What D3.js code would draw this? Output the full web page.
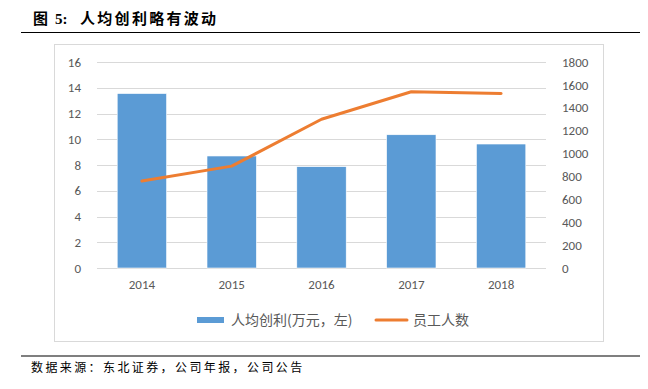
<!DOCTYPE html>
<html>
<head>
<meta charset="utf-8">
<script src="https://cdn.jsdelivr.net/npm/d3@7"></script>
<style>
  body { margin: 0; background: #fff; }
  text { font-family: "Noto Sans CJK SC", "Noto Sans", sans-serif; white-space: pre; }
</style>
</head>
<body>
<svg></svg>
<script>
var years = ["2014", "2015", "2016", "2017", "2018"];
var profitPerHead = [13.55, 8.7, 7.87, 10.35, 9.63];
var staff = [760, 890, 1300, 1540, 1525];
var leftTicks = [0, 2, 4, 6, 8, 10, 12, 14, 16];
var rightTicks = [0, 200, 400, 600, 800, 1000, 1200, 1400, 1600, 1800];

var width = 648, height = 389;

var svg = d3.select("svg")
  .attr("width", width)
  .attr("height", height);

var plot = { left: 97, right: 546, top: 62, bottom: 268 };

// title
svg.append("text")
  .attr("x", 33).attr("y", 24)
  .attr("font-size", 15).attr("font-weight", "bold")
  .attr("fill", "#000")
  .text("图");
svg.append("text")
  .attr("x", 55).attr("y", 24)
  .attr("font-size", 15).attr("font-weight", "bold")
  .attr("fill", "#000")
  .style("font-family", "'Liberation Serif', serif")
  .text("5:");
svg.append("text")
  .attr("x", 80).attr("y", 24)
  .attr("font-size", 15).attr("font-weight", "bold")
  .attr("letter-spacing", 2.3)
  .attr("fill", "#000")
  .text("人均创利略有波动");

svg.append("line")
  .attr("x1", 21).attr("x2", 640).attr("y1", 32.5).attr("y2", 32.5)
  .attr("stroke", "#000").attr("stroke-width", 1.2);

// chart frame
svg.append("rect")
  .attr("x", 54.5).attr("y", 44.5).attr("width", 549).attr("height", 297)
  .attr("fill", "none").attr("stroke", "#d9d9d9");

var xScale = d3.scaleBand()
  .domain(years)
  .range([plot.left, plot.right])
  .paddingInner(0.45)
  .paddingOuter(0.225);

var yLeft = d3.scaleLinear().domain([0, 16]).range([plot.bottom, plot.top]);
var yRight = d3.scaleLinear().domain([0, 1800]).range([plot.bottom, plot.top]);

// gridlines
svg.append("g")
  .selectAll("line")
  .data(leftTicks)
  .enter()
  .append("line")
  .attr("x1", plot.left).attr("x2", plot.right)
  .attr("y1", function(d){ return Math.round(yLeft(d)) + 0.5; })
  .attr("y2", function(d){ return Math.round(yLeft(d)) + 0.5; })
  .attr("stroke", "#d9d9d9");

// bars
svg.append("g")
  .selectAll("rect")
  .data(profitPerHead)
  .enter()
  .append("rect")
  .attr("x", function(d, i){ return xScale(years[i]); })
  .attr("width", xScale.bandwidth())
  .attr("y", function(d){ return yLeft(d); })
  .attr("height", function(d){ return yLeft(0) - yLeft(d); })
  .attr("fill", "#5b9bd5")
  .attr("stroke", "#fff").attr("stroke-width", 0.6);

// line
var line = d3.line()
  .x(function(d, i){ return xScale(years[i]) + xScale.bandwidth() / 2; })
  .y(function(d){ return yRight(d); });

svg.append("path")
  .datum(staff)
  .attr("d", line)
  .attr("fill", "none")
  .attr("stroke", "#ed7d31")
  .attr("stroke-width", 3)
  .attr("stroke-linecap", "round")
  .attr("stroke-linejoin", "round");

// axes
var leftAxis = d3.axisLeft(yLeft).tickValues(leftTicks).tickSize(0).tickPadding(8);
var rightAxis = d3.axisRight(yRight).tickValues(rightTicks).tickFormat(d3.format("d")).tickSize(0).tickPadding(16);
var bottomAxis = d3.axisBottom(xScale).tickSize(0).tickPadding(12);

function styleAxis(g) {
  g.select(".domain").remove();
  g.selectAll("text")
    .attr("fill", "#595959")
    .attr("font-size", 13)
    .style("font-family", "Calibri, Carlito, 'Liberation Sans', sans-serif");
}

svg.append("g")
  .attr("transform", "translate(" + (plot.left - 8) + ",0)")
  .call(leftAxis)
  .call(styleAxis);

svg.append("g")
  .attr("transform", "translate(" + plot.right + ",0)")
  .call(rightAxis)
  .call(styleAxis);

svg.append("g")
  .attr("transform", "translate(0," + plot.bottom + ")")
  .call(bottomAxis)
  .call(styleAxis);

// legend
var legend = svg.append("g").attr("transform", "translate(0,320)");
legend.append("rect")
  .attr("x", 197).attr("y", -3).attr("width", 27).attr("height", 6)
  .attr("fill", "#5b9bd5");
legend.append("text")
  .attr("x", 231).attr("y", 5)
  .attr("font-size", 14).attr("fill", "#595959")
  .text("人均创利(万元，左)");
legend.append("line")
  .attr("x1", 376).attr("x2", 407).attr("y1", 0).attr("y2", 0)
  .attr("stroke", "#ed7d31").attr("stroke-width", 3).attr("stroke-linecap", "round");
legend.append("text")
  .attr("x", 413).attr("y", 5)
  .attr("font-size", 14).attr("fill", "#595959")
  .text("员工人数");

// source
svg.append("line")
  .attr("x1", 21).attr("x2", 640).attr("y1", 356).attr("y2", 356)
  .attr("stroke", "#000").attr("stroke-width", 1.2);

svg.append("text")
  .attr("x", 31).attr("y", 372)
  .attr("font-size", 12).attr("fill", "#000")
  .attr("letter-spacing", 2.4)
  .text("数据来源：东北证券，公司年报，公司公告");
</script>
</body>
</html>
